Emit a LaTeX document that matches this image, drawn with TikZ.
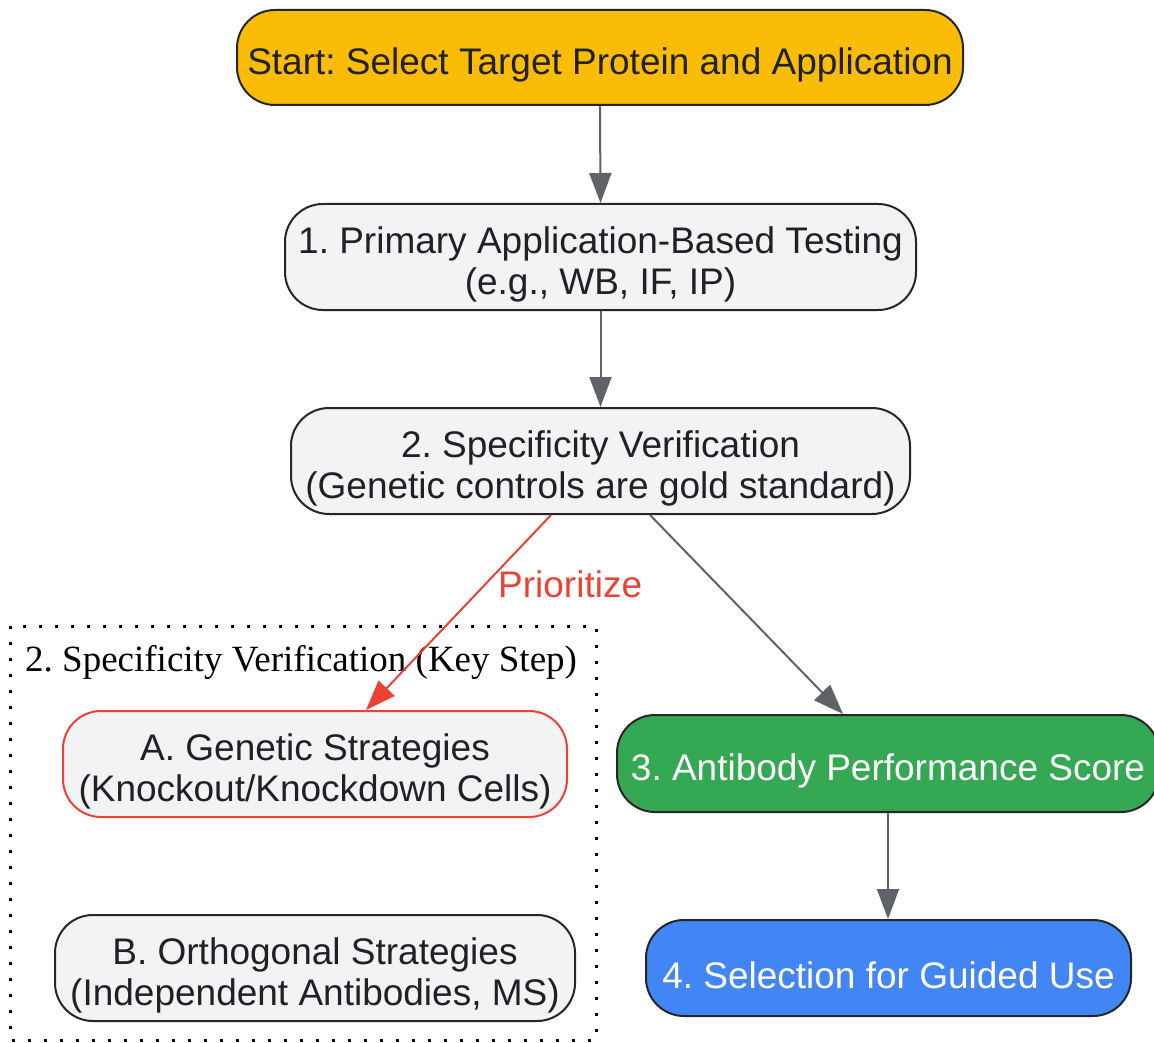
\documentclass[tikz,border=0pt]{standalone}
\usepackage{fontspec}
\setmainfont{Liberation Sans}
\newfontfamily\serifx{Liberation Serif}
\usetikzlibrary{arrows.meta}
\definecolor{gyellow}{HTML}{FBBC05}
\definecolor{ggreen}{HTML}{34A853}
\definecolor{gblue}{HTML}{4285F4}
\definecolor{gred}{HTML}{EA4335}
\definecolor{ggray}{HTML}{F1F3F4}
\definecolor{garrow}{HTML}{5F6368}
\definecolor{gtext}{HTML}{202124}
\definecolor{gborder}{HTML}{262626}
\newcommand\upstrut{\rule{0pt}{41pt}}
\frenchspacing
\begin{document}
\begin{tikzpicture}[x=1pt,y=-1pt,
  box/.style={draw=gborder, line width=2pt, rounded corners=38pt, fill=ggray,
    text=gtext, align=center, inner sep=0pt,
    font=\fontsize{37}{41}\selectfont},
  conn/.style={draw=garrow, line width=2pt, -{Triangle[length=30pt,width=22pt]}},
]
\useasboundingbox (0,0) rectangle (1154,1043);
\fill[white] (0,0) rectangle (1154,1043);
% cluster
\draw[line width=3pt, dash pattern=on 3pt off 13pt, black] (10,626) rectangle (596,1040);
\node[anchor=west, font=\serifx\fontsize{37}{42}\selectfont, text=black, inner sep=0pt] (cl) at (25,662) {2. Specificity Verification (Key Step)};
% nodes
\node[box, fill=gyellow, minimum width=726pt, minimum height=95pt] (s) at (600,57.5) {\upstrut Start: Select Target Protein and Application};
\node[box, minimum width=631pt, minimum height=106pt] (n1) at (600.5,257) {\upstrut 1. Primary Application-Based Testing\\(e.g., WB, IF, IP)};
\node[box, minimum width=619pt, minimum height=106pt] (n2) at (600.5,461) {\upstrut 2. Specificity Verification\\(Genetic controls are gold standard)};
\node[box, draw=gred, minimum width=504pt, minimum height=106pt] (a) at (315,764) {\upstrut A. Genetic Strategies\\(Knockout/Knockdown Cells)};
\node[box, minimum width=520pt, minimum height=106pt] (b) at (315,968) {\upstrut B. Orthogonal Strategies\\(Independent Antibodies, MS)};
\node[box, fill=ggreen, text=white, minimum width=542pt, minimum height=97pt] (n3) at (888,763.5) {\upstrut 3. Antibody Performance Score};
\node[box, fill=gblue, text=white, minimum width=485pt, minimum height=96pt] (n4) at (888.5,968) {\upstrut 4. Selection for Guided Use};
% connectors
\draw[conn] (s.south) -- (n1.north);
\draw[conn] (n1.south) -- (n2.north);
\draw[conn, draw=gred, fill=gred] (n2.south -| 551,0) -- (a.north -| 366,0);
\node[text=gred, font=\fontsize{37}{41}\selectfont, inner sep=0pt, anchor=west] (pl) at (498,584) {Prioritize};
\draw[conn, fill=garrow] (n2.south -| 650,0) -- (n3.north -| 843,0);
\draw[conn, fill=garrow] (n3.south -| 888,0) -- (n4.north -| 888,0);
\end{tikzpicture}
\end{document}
